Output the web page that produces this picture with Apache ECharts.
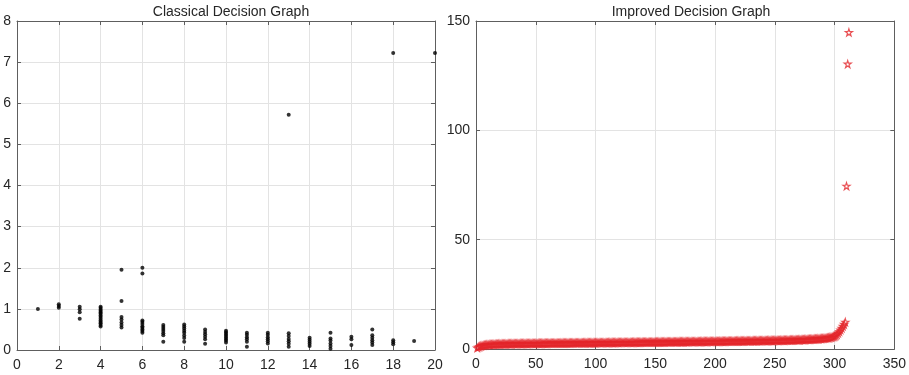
<!DOCTYPE html>
<html>
<head>
<meta charset="utf-8">
<title>Decision Graphs</title>
<script src="https://cdn.jsdelivr.net/npm/echarts@6/dist/echarts.min.js"></script>
<style>
  html, body { margin: 0; padding: 0; background: #fff; }
  #chart { width: 909px; height: 375px; }
</style>
</head>
<body>
<div id="chart"></div>
<script>
// titles
var leftTitle = 'Classical Decision Graph'
var rightTitle = 'Improved Decision Graph'

// classical decision graph: rho (x) and delta (y)
var classicalRho = [
  1,
  2, 2, 2,
  3, 3, 3, 3,
  4, 4, 4, 4, 4, 4, 4, 4, 4, 4, 4, 4, 4, 4,
  5, 5, 5, 5, 5, 5, 5,
  6, 6, 6, 6, 6, 6, 6, 6, 6, 6,
  7, 7, 7, 7, 7, 7, 7,
  8, 8, 8, 8, 8, 8, 8, 8,
  9, 9, 9, 9, 9, 9,
  10, 10, 10, 10, 10, 10, 10, 10,
  11, 11, 11, 11, 11, 11,
  12, 12, 12, 12, 12, 12,
  13, 13, 13, 13, 13, 13, 13,
  14, 14, 14, 14, 14,
  15, 15, 15, 15, 15, 15,
  16, 16, 16,
  17, 17, 17, 17, 17, 17,
  18, 18, 18, 18,
  19,
  20
]
var classicalDelta = [
  1.00,
  1.03, 1.07, 1.11,
  1.05, 0.99, 0.92, 0.76,
  1.05, 1.02, 0.98, 0.95, 0.91, 0.88, 0.84, 0.80, 0.76, 0.72, 0.68, 0.65, 0.61, 0.57,
  1.95, 1.19, 0.80, 0.74, 0.67, 0.61, 0.55,
  2.00, 1.86, 0.72, 0.68, 0.63, 0.58, 0.54, 0.50, 0.46, 0.42,
  0.61, 0.56, 0.51, 0.46, 0.41, 0.36, 0.20,
  0.62, 0.57, 0.52, 0.47, 0.42, 0.35, 0.29, 0.20,
  0.50, 0.44, 0.38, 0.32, 0.26, 0.15,
  0.47, 0.43, 0.39, 0.35, 0.31, 0.27, 0.23, 0.18,
  0.42, 0.37, 0.31, 0.26, 0.20, 0.08,
  0.42, 0.37, 0.31, 0.26, 0.21, 0.16,
  5.72, 0.41, 0.34, 0.27, 0.21, 0.15, 0.08,
  0.30, 0.25, 0.20, 0.15, 0.10,
  0.42, 0.28, 0.23, 0.16, 0.10, 0.03,
  0.32, 0.26, 0.12,
  0.50, 0.36, 0.30, 0.24, 0.18, 0.12,
  7.22, 0.24, 0.19, 0.14,
  0.22,
  7.22
]

// improved decision graph: sorted gamma values, index 1..312
var improvedGamma = [
  0.48, 0.86, 1.12, 1.31, 1.47, 1.60, 1.71, 1.80, 1.88, 1.94, 1.99, 2.03, 2.07, 2.10, 2.13, 2.16, 2.18, 2.20, 2.22, 2.24,
  2.26, 2.27, 2.29, 2.30, 2.32, 2.33, 2.34, 2.35, 2.37, 2.38, 2.39, 2.40, 2.41, 2.42, 2.43, 2.44, 2.45, 2.45, 2.46, 2.47,
  2.48, 2.49, 2.49, 2.50, 2.51, 2.52, 2.52, 2.53, 2.54, 2.55, 2.55, 2.56, 2.57, 2.57, 2.58, 2.59, 2.59, 2.60, 2.61, 2.61,
  2.62, 2.62, 2.63, 2.64, 2.64, 2.65, 2.65, 2.66, 2.67, 2.67, 2.68, 2.68, 2.69, 2.70, 2.70, 2.71, 2.71, 2.72, 2.72, 2.73,
  2.74, 2.74, 2.75, 2.75, 2.76, 2.76, 2.77, 2.78, 2.78, 2.79, 2.79, 2.80, 2.80, 2.81, 2.82, 2.82, 2.83, 2.83, 2.84, 2.84,
  2.85, 2.85, 2.86, 2.87, 2.87, 2.88, 2.88, 2.89, 2.89, 2.90, 2.91, 2.91, 2.92, 2.92, 2.93, 2.93, 2.94, 2.95, 2.95, 2.96,
  2.96, 2.97, 2.97, 2.98, 2.99, 2.99, 3.00, 3.00, 3.01, 3.01, 3.02, 3.03, 3.03, 3.04, 3.04, 3.05, 3.06, 3.06, 3.07, 3.07,
  3.08, 3.08, 3.09, 3.10, 3.10, 3.11, 3.11, 3.12, 3.13, 3.13, 3.14, 3.14, 3.15, 3.16, 3.16, 3.17, 3.17, 3.18, 3.19, 3.19,
  3.20, 3.20, 3.21, 3.22, 3.22, 3.23, 3.23, 3.24, 3.25, 3.25, 3.26, 3.27, 3.27, 3.28, 3.28, 3.29, 3.30, 3.30, 3.31, 3.32,
  3.32, 3.33, 3.34, 3.34, 3.35, 3.36, 3.36, 3.37, 3.38, 3.38, 3.39, 3.40, 3.40, 3.41, 3.42, 3.42, 3.43, 3.44, 3.45, 3.45,
  3.46, 3.47, 3.47, 3.48, 3.49, 3.50, 3.50, 3.51, 3.52, 3.53, 3.53, 3.54, 3.55, 3.56, 3.56, 3.57, 3.58, 3.59, 3.60, 3.60,
  3.61, 3.62, 3.63, 3.64, 3.65, 3.65, 3.66, 3.67, 3.68, 3.69, 3.70, 3.71, 3.72, 3.72, 3.73, 3.74, 3.75, 3.76, 3.77, 3.78,
  3.79, 3.80, 3.81, 3.82, 3.83, 3.84, 3.85, 3.86, 3.87, 3.88, 3.90, 3.91, 3.92, 3.93, 3.94, 3.96, 3.97, 3.98, 4.00, 4.01,
  4.03, 4.04, 4.06, 4.07, 4.09, 4.11, 4.12, 4.14, 4.16, 4.18, 4.20, 4.22, 4.25, 4.27, 4.30, 4.32, 4.35, 4.38, 4.41, 4.43,
  4.46, 4.49, 4.52, 4.55, 4.58, 4.62, 4.66, 4.70, 4.74, 4.79, 4.84, 4.90, 4.96, 5.03, 5.11, 5.20, 5.31, 5.44, 5.60, 5.80,
  6.10, 6.60, 7.20, 7.90, 8.70, 9.50, 10.4, 11.3, 12.3,
  74.5, 130.3, 144.8
]

// axis ticks
var leftXTicks = { min: 0, max: 20, interval: 2 }
var leftYTicks = { min: 0, max: 8, interval: 1 }
var rightXTicks = { min: 0, max: 350, interval: 50 }
var rightYTicks = { min: 0, max: 150, interval: 50 }

var fontFamily = '"Liberation Sans", Arial, sans-serif'
var axisColor = '#5e5e5e'
var gridColor = '#e3e3e3'
var labelColor = '#262626'

function makeAxis(type, grid, ticks, position, showLabel, showGrid) {
  return {
    type: 'value',
    gridIndex: grid,
    position: position,
    min: ticks.min,
    max: ticks.max,
    interval: ticks.interval,
    axisLine: { show: true, onZero: false, lineStyle: { color: axisColor, width: 1 } },
    axisTick: { show: true, inside: true, length: 4, lineStyle: { color: axisColor } },
    axisLabel: {
      show: showLabel,
      color: labelColor,
      fontSize: 14,
      fontFamily: fontFamily,
      margin: type === 'x' ? 8 : 6
    },
    splitLine: { show: showGrid, lineStyle: { color: gridColor, width: 1 } }
  }
}

var classicalData = classicalRho.map(function (r, i) { return [r, classicalDelta[i]] })
var improvedData = improvedGamma.map(function (g, i) { return [i + 1, g] })

var starPath = 'path://M50,2 L61,36 L97,36 L68,57 L79,92 L50,71 L21,92 L32,57 L3,36 L39,36 Z'

var chart = echarts.init(document.getElementById('chart'))
var option = {
  backgroundColor: '#fff',
  animation: false,
  title: [
    {
      text: leftTitle,
      left: 226,
      top: 0,
      textAlign: 'center',
      textStyle: { fontSize: 14, fontWeight: 'normal', color: labelColor, fontFamily: fontFamily }
    },
    {
      text: rightTitle,
      left: 686,
      top: 0,
      textAlign: 'center',
      textStyle: { fontSize: 14, fontWeight: 'normal', color: labelColor, fontFamily: fontFamily }
    }
  ],
  grid: [
    { left: 17, right: 474, top: 21, bottom: 25 },
    { left: 476, right: 14, top: 21, bottom: 26 }
  ],
  xAxis: [
    makeAxis('x', 0, leftXTicks, 'bottom', true, true),
    makeAxis('x', 0, leftXTicks, 'top', false, false),
    makeAxis('x', 1, rightXTicks, 'bottom', true, true),
    makeAxis('x', 1, rightXTicks, 'top', false, false)
  ],
  yAxis: [
    makeAxis('y', 0, leftYTicks, 'left', true, true),
    makeAxis('y', 0, leftYTicks, 'right', false, false),
    makeAxis('y', 1, rightYTicks, 'left', true, true),
    makeAxis('y', 1, rightYTicks, 'right', false, false)
  ],
  series: [
    {
      name: 'classical',
      type: 'scatter',
      xAxisIndex: 0,
      yAxisIndex: 0,
      symbol: 'circle',
      symbolSize: 4,
      itemStyle: { color: '#000' },
      data: classicalData
    },
    {
      name: 'improved',
      type: 'scatter',
      xAxisIndex: 2,
      yAxisIndex: 2,
      symbol: starPath,
      symbolSize: 7,
      itemStyle: { color: 'rgba(255,255,255,0)', borderColor: '#e3262b', borderWidth: 1.2 },
      data: improvedData
    }
  ]
}
chart.setOption(option)
</script>
</body>
</html>
